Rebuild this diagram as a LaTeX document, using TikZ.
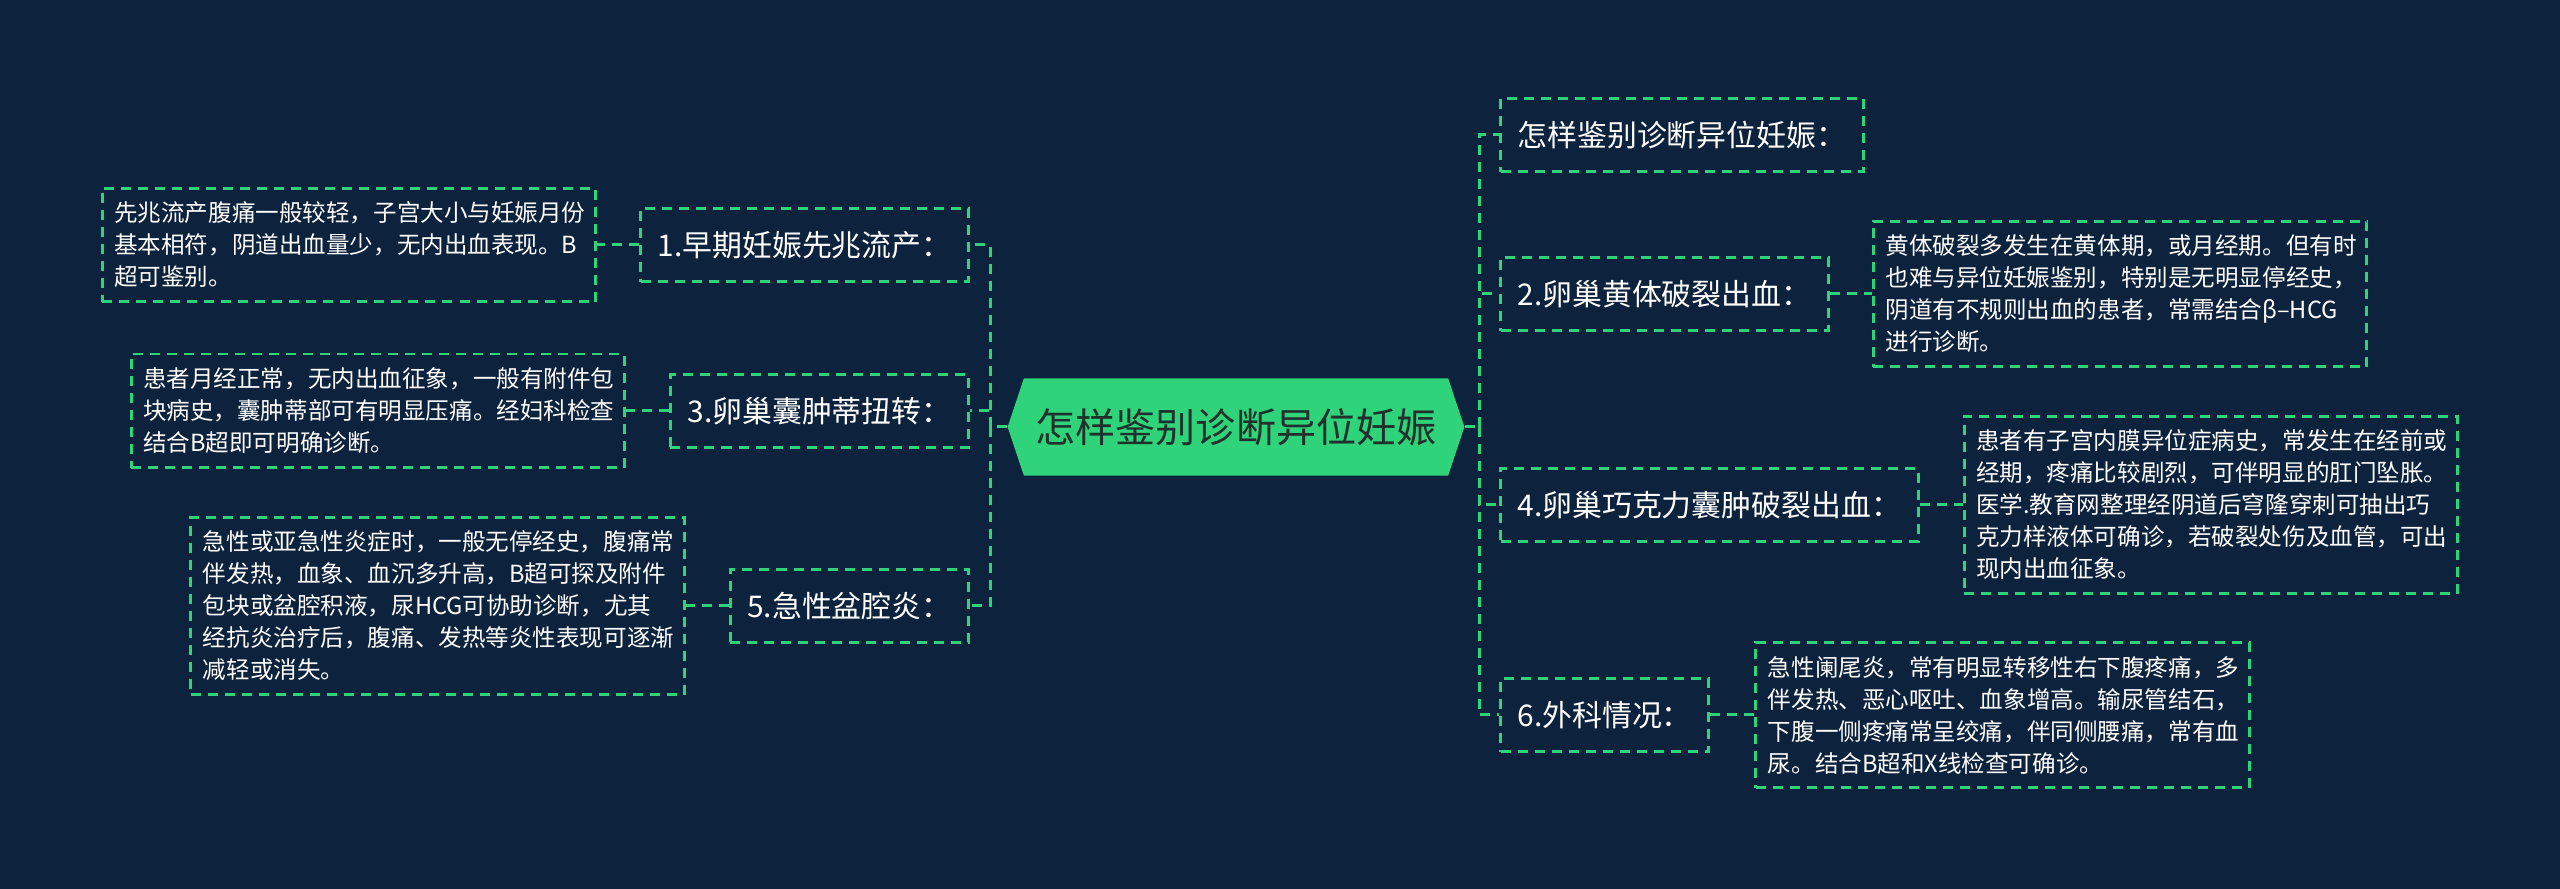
\documentclass[tikz,border=0pt]{standalone}
\usepackage{fontspec}
\setmainfont{Noto Sans CJK SC}
\usetikzlibrary{positioning,shapes.symbols}
\definecolor{bgnavy}{RGB}{13,34,61}
\definecolor{mintgreen}{RGB}{46,211,122}
\definecolor{rootink}{RGB}{32,48,44}

\begin{document}
\begin{tikzpicture}[x=0.01cm, y=-0.01cm,
  link/.style={draw=mintgreen, line width=0.85pt, dash pattern=on 0.1cm off 0.07cm},
  topic/.style={link, text=white, font=\fontsize{8.5pt}{10pt}\selectfont, inner xsep=0.17cm, inner ysep=0pt, minimum height=0.73cm},
  note/.style={link, text=white, font=\fontsize{6.7pt}{9.1pt}\selectfont, text width=4.69cm, align=left, inner xsep=0.12cm, inner ysep=0.14cm}]
  \fill[bgnavy] (0,0) rectangle (2560,889);

  \node[signal, signal to=west and east, signal pointer angle=143, fill=mintgreen, text=rootink,
    font=\fontsize{11.4pt}{13pt}\selectfont, minimum width=4.44cm, minimum height=0.97cm] (root) at (1236,427) {怎样鉴别诊断异位妊娠};
  \coordinate (jl) at (990,427);
  \coordinate (jr) at (1479,427);

  % left branches
  \node[topic, anchor=east] (n1) at (970,245) {1.早期妊娠先兆流产：};
  \node[topic, anchor=east] (n3) at (970,411) {3.卵巢囊肿蒂扭转：};
  \node[topic, anchor=east] (n5) at (970,606) {5.急性盆腔炎：};

  \node[note, left=0.42cm of n1] (d1) {先兆流产腹痛一般较轻，子宫大小与妊娠月份\\基本相符，阴道出血量少，无内出血表现。B\\超可鉴别。};
  \node[note, left=0.43cm of n3] (d3) {患者月经正常，无内出血征象，一般有附件包\\块病史，囊肿蒂部可有明显压痛。经妇科检查\\结合B超即可明确诊断。};
  \node[note, left=0.43cm of n5] (d5) {急性或亚急性炎症时，一般无停经史，腹痛常\\伴发热，血象、血沉多升高，B超可探及附件\\包块或盆腔积液，尿HCG可协助诊断，尤其\\经抗炎治疗后，腹痛、发热等炎性表现可逐渐\\减轻或消失。};

  % right branches
  \node[topic, anchor=west] (n0) at (1499,135) {怎样鉴别诊断异位妊娠：};
  \node[topic, anchor=west] (n2) at (1499,294) {2.卵巢黄体破裂出血：};
  \node[topic, anchor=west] (n4) at (1499,505) {4.卵巢巧克力囊肿破裂出血：};
  \node[topic, anchor=west] (n6) at (1499,715) {6.外科情况：};

  \node[note, right=0.42cm of n2] (d2) {黄体破裂多发生在黄体期，或月经期。但有时\\也难与异位妊娠鉴别，特别是无明显停经史，\\阴道有不规则出血的患者，常需结合β–HCG\\进行诊断。};
  \node[note, right=0.43cm of n4] (d4) {患者有子宫内膜异位症病史，常发生在经前或\\经期，疼痛比较剧烈，可伴明显的肛门坠胀。\\医学.教育网整理经阴道后穹隆穿刺可抽出巧\\克力样液体可确诊，若破裂处伤及血管，可出\\现内出血征象。};
  \node[note, right=0.44cm of n6] (d6) {急性阑尾炎，常有明显转移性右下腹疼痛，多\\伴发热、恶心呕吐、血象增高。输尿管结石，\\下腹一侧疼痛常呈绞痛，伴同侧腰痛，常有血\\尿。结合B超和X线检查可确诊。};

  % connectors
  \draw[link] (root.west) -- (jl);
  \draw[link] (root.east) -- (jr);
  \foreach \n in {n1,n3,n5} \draw[link] (jl) |- (\n.east);
  \foreach \n in {n0,n2,n4,n6} \draw[link] (jr) |- (\n.west);
  \draw[link] (n1) -- (d1);
  \draw[link] (n3) -- (d3);
  \draw[link] (n5) -- (d5);
  \draw[link] (n2) -- (d2);
  \draw[link] (n4) -- (d4);
  \draw[link] (n6) -- (d6);
\end{tikzpicture}
\end{document}
